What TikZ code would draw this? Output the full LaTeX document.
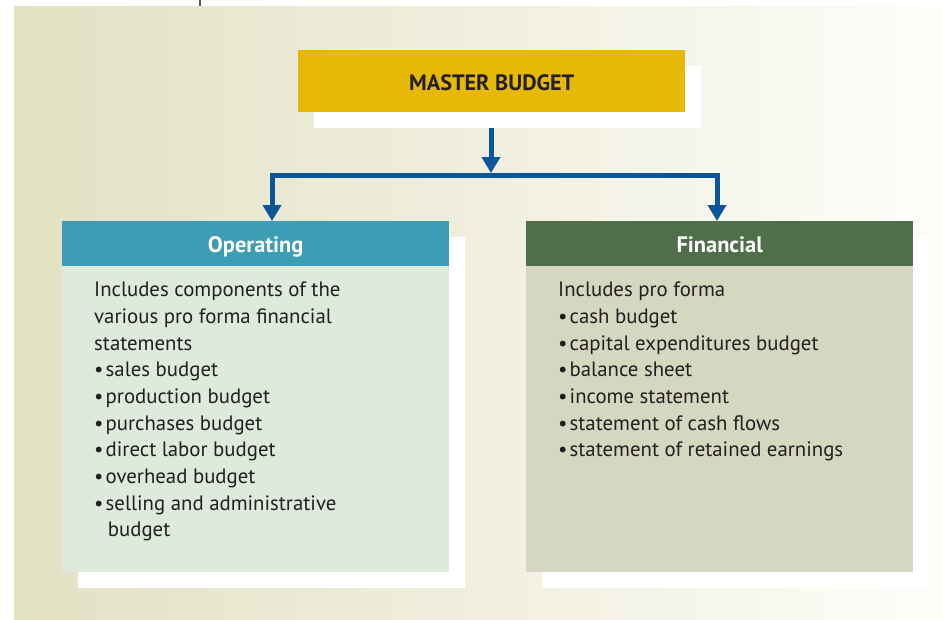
\documentclass[tikz,border=0pt]{standalone}
\usepackage{fontspec}
\setmainfont{PT Sans}
\usetikzlibrary{arrows.meta}
\definecolor{bgL}{RGB}{226,225,195}
\definecolor{bgR}{RGB}{254,253,250}
\definecolor{masterC}{RGB}{230,184,7}
\definecolor{opHeadC}{RGB}{60,157,181}
\definecolor{opBodyC}{RGB}{221,234,220}
\definecolor{finHeadC}{RGB}{78,111,73}
\definecolor{finBodyC}{RGB}{213,215,192}
\definecolor{arrowC}{RGB}{11,85,153}
\definecolor{txtC}{RGB}{35,31,32}
\newcommand{\bul}{•\hspace{0.1em}}
\tikzset{
  shadowbox/.style={fill=white, draw=none},
  conn/.style={draw=arrowC, line width=5pt, line join=miter},
  tip/.style={-{Triangle[width=18pt,length=16pt]}},
  bodytext/.style={anchor=north west, inner sep=0pt, align=left, text=txtC,
    font=\fontsize{20.8}{26.67}\selectfont},
  headbox/.style={minimum width=387pt, minimum height=45pt, inner sep=0pt,
    anchor=north west, text height=17pt, text depth=0pt},
  headtext/.style={text=white, font=\fontsize{22.4}{24}\selectfont\bfseries},
}
\begin{document}
\begin{tikzpicture}[x=1pt,y=-1pt]
\useasboundingbox (0,0) rectangle (943,619);
% background
\shade[left color=bgL, right color=bgR] (14,6) rectangle (943,619);
\draw[gray!70!black, line width=1.2pt] (200,0) -- (200,6);
% shadows
\fill[shadowbox] (314,66) rectangle (701,128);
\fill[shadowbox] (78,237) rectangle (465,588);
\fill[shadowbox] (542,237) rectangle (929,588);
% master
\node[fill=masterC, minimum width=387pt, minimum height=62pt, inner sep=0pt,
  anchor=north west, text=txtC, text height=19pt, text depth=0pt,
  font=\fontsize{22.2}{24}\selectfont\bfseries]
  (master) at (298,50) {MASTER BUDGET};
% operating
\node[fill=opHeadC, headbox, headtext] (opHead) at (62,221) {Operating};
\fill[opBodyC] (62,266) rectangle (449,572);
% financial
\node[fill=finHeadC, headbox, headtext] (finHead) at (526,221) {Financial};
\fill[finBodyC] (526,266) rectangle (913,572);
% connectors
\coordinate (jTop) at (491,173);
\coordinate (jL) at (272,175);
\coordinate (jR) at (717,175);
\draw[conn, tip] (master.south -| jTop) ++(0,16) -- (jTop);
\draw[conn, {Triangle[width=18pt,length=16pt]}-{Triangle[width=18pt,length=16pt]}]
  (opHead.north -| jL) -- (jL) -- (jR) -- (finHead.north -| jR);
% texts
\node[bodytext] (opText) at (94,282) {Includes components of the\\
various pro forma financial\\
statements\\
\bul sales budget\\
\bul production budget\\
\bul purchases budget\\
\bul direct labor budget\\
\bul overhead budget\\
\bul selling and administrative\\
\hspace*{0.66em}budget};
\node[bodytext] (finText) at (558,282) {Includes pro forma\\
\bul cash budget\\
\bul capital expenditures budget\\
\bul balance sheet\\
\bul income statement\\
\bul statement of cash flows\\
\bul statement of retained earnings};
\end{tikzpicture}
\end{document}
